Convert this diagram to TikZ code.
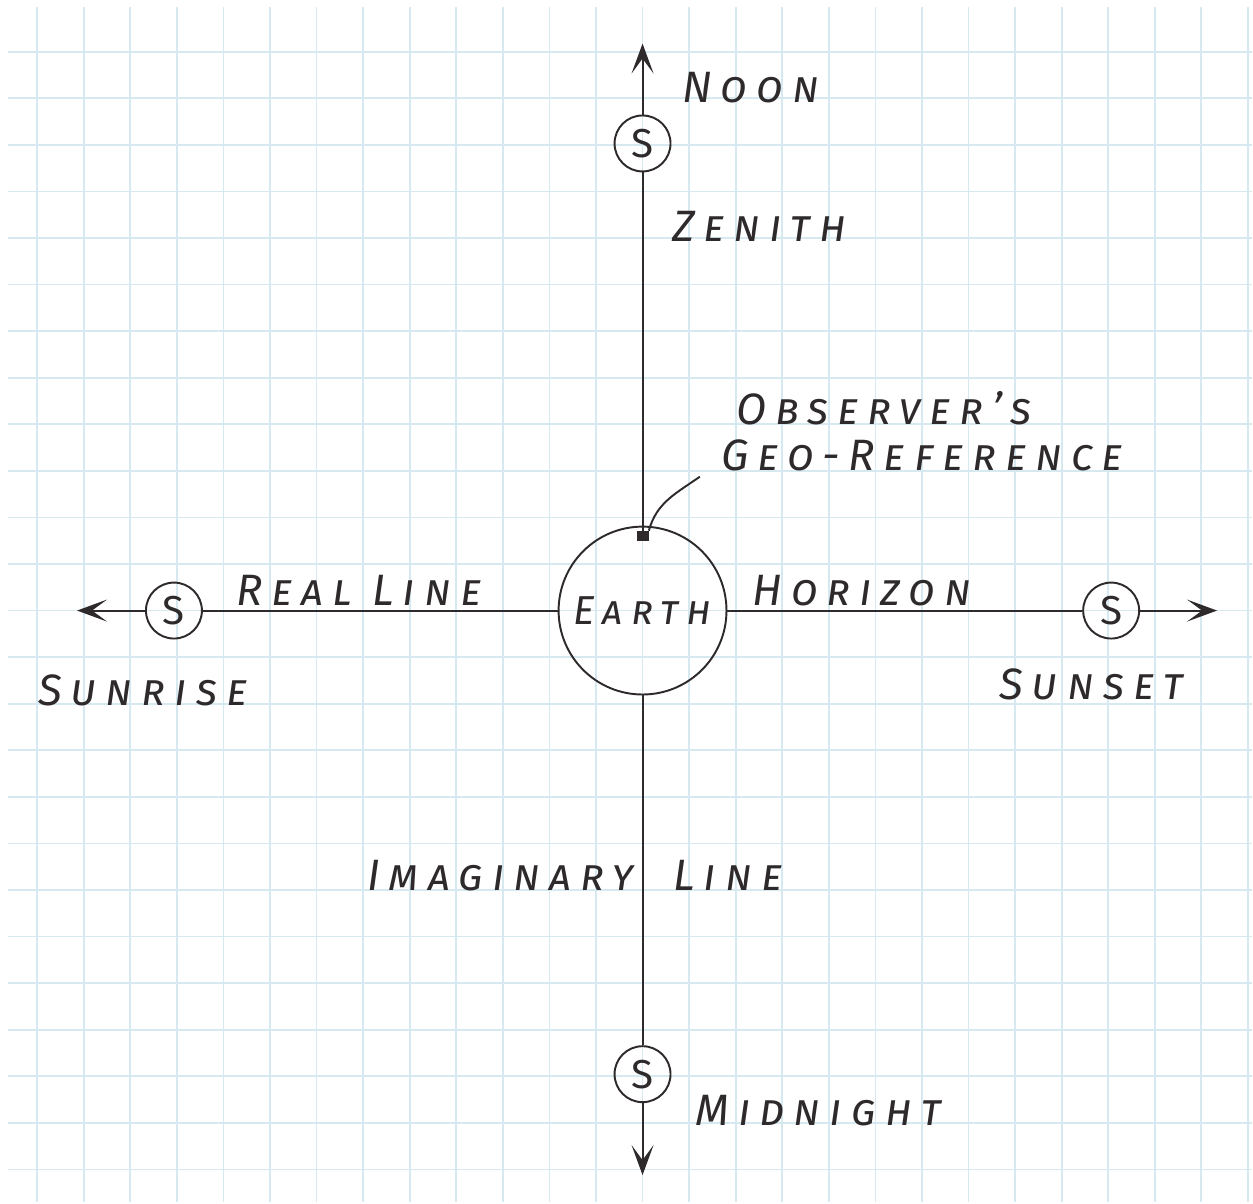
\documentclass[tikz,border=0pt]{standalone}
\usepackage{fontspec}
\newfontfamily\handfont[Letters=SmallCaps,LetterSpace=20]{Fira Sans}
\usetikzlibrary{arrows.meta,positioning}
\definecolor{Ink}{HTML}{2E2A2B}
\definecolor{GridBlue}{HTML}{D6E9F0}

\begin{document}
\begin{tikzpicture}[
  body/.style={circle, draw=Ink, line width=1.1pt, minimum size=3.36cm, inner sep=0pt,
               font=\handfont\itshape\fontsize{23}{23}\selectfont, text=Ink},
  sun/.style={circle, draw=Ink, line width=1.1pt, minimum size=1.12cm, inner sep=0pt,
              font=\handfont\fontsize{23}{23}\selectfont, text=Ink},
  lbl/.style={inner sep=0pt, font=\handfont\itshape\fontsize{25}{25}\selectfont, text=Ink},
  axis/.style={draw=Ink, line width=1.1pt},
  ray/.style={axis, -{Stealth[length=0.6cm, width=0.44cm, inset=0.3cm]}},
  node distance=7.07cm
]
  \fill[white] (-12.86,-11.84) rectangle (12.2,12.22);
  \draw[GridBlue, line width=1pt, step=0.932cm] (-12.7,-11.84) grid (12.2,12.08);
  \useasboundingbox (-12.86,-11.84) rectangle (12.2,12.22);

  \node[body] (earth) {Earth};
  \node[sun, above=of earth] (noon) {S};
  \node[sun, below=7cm of earth] (midnight) {S};
  \node[sun, left=7.1cm of earth]  (sunrise) {S};
  \node[sun, right=7.1cm of earth] (sunset) {S};
  \node[fill=Ink, minimum width=0.24cm, minimum height=0.2cm, inner sep=0pt,
        below=0.1cm of earth.north] (geo) {};

  \coordinate[above=1.42cm of noon] (noontip);
  \coordinate[below=1.44cm of midnight] (midnighttip);
  \coordinate[left=1.36cm of sunrise] (sunrisetip);
  \coordinate[right=1.54cm of sunset] (sunsettip);

  \draw[axis] (noon) -- (geo) node[lbl, right=0.58cm, pos=.15] {Zenith};
  \draw[axis] (earth) -- (midnight)
    node[lbl, pos=.557, anchor=base east, xshift=-0.16cm] {Imaginary\rlap{\hspace{0.8cm}Line}};
  \draw[axis] (sunrise) -- (earth) node[lbl, above=0.08cm, pos=.44] {Real Line};
  \draw[axis] (earth) -- (sunset) node[lbl, above=0.08cm, pos=.38] {Horizon};
  \draw[ray] (noon) -- (noontip);
  \draw[ray] (midnight) -- (midnighttip);
  \draw[ray] (sunrise) -- (sunrisetip);
  \draw[ray] (sunset) -- (sunsettip);

  \node[lbl, above right=0.4cm and 0.38cm of noon] (noonlbl) {Noon};
  \node[lbl, below right=0cm and 0.64cm of midnight] (midnightlbl) {Midnight};
  \node[lbl, below=0.7cm of sunrise, xshift=-0.62cm] (sunriselbl) {Sunrise};
  \node[lbl, below=0.58cm of sunset, xshift=-0.4cm] (sunsetlbl) {Sunset};
  \node[lbl, align=left, above right=1.18cm and 1.44cm of geo] (obs) {\hspace*{0.3cm}Observer’s\\[0.05cm]Geo-Reference};
  \coordinate[below left=0.1cm and 0.42cm of obs.south west] (ptr);
  \draw[axis] (ptr) to[out=215, in=75] (geo.north east);
\end{tikzpicture}
\end{document}
